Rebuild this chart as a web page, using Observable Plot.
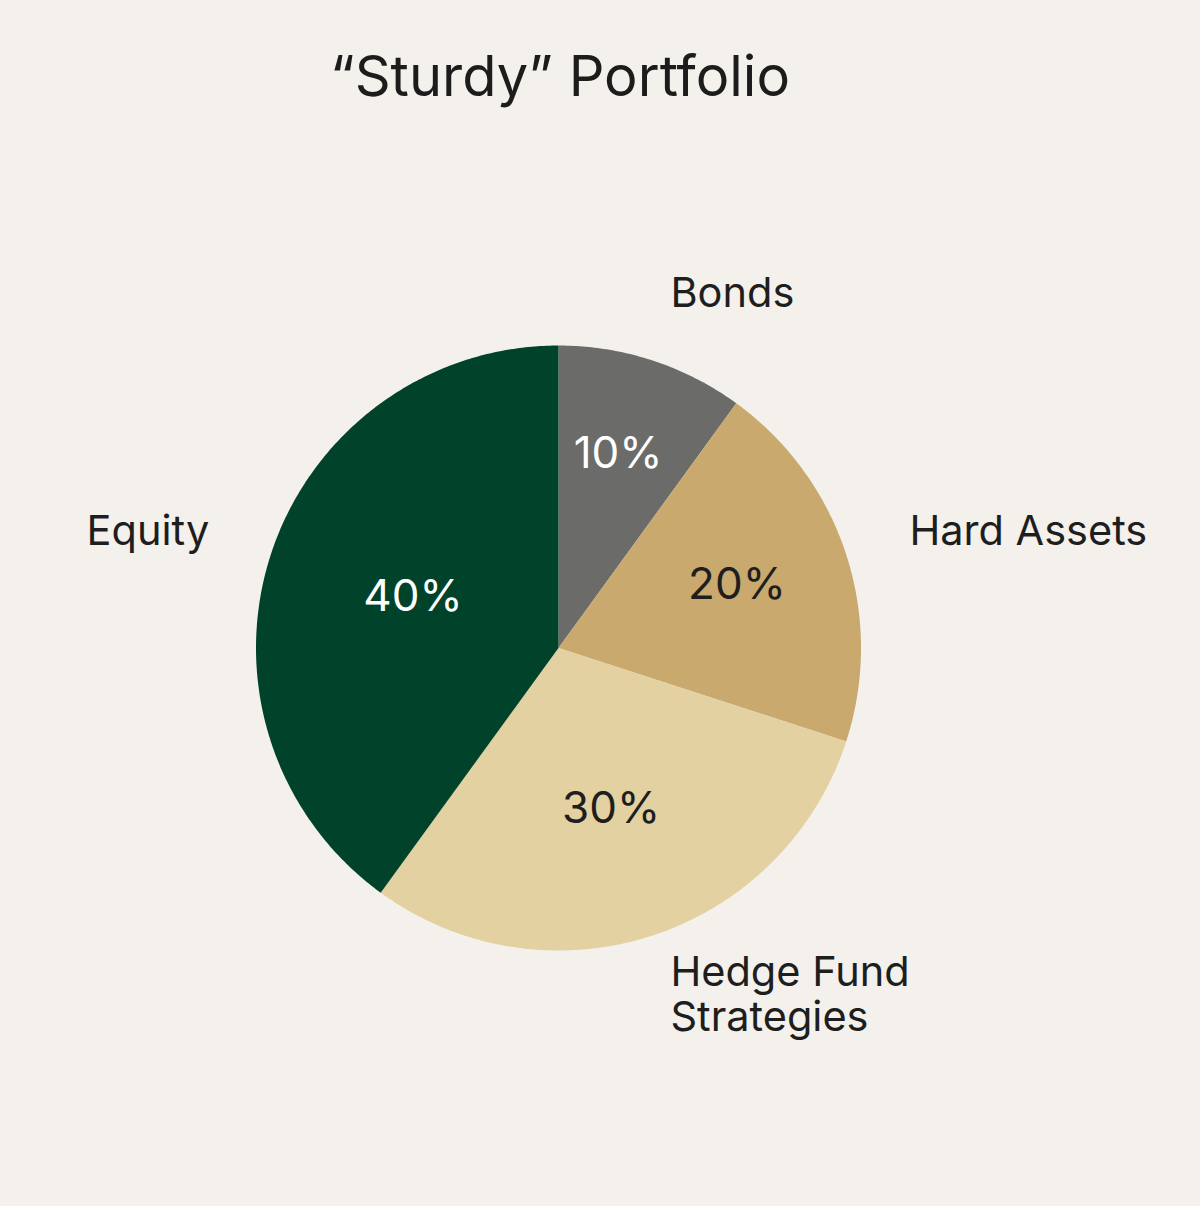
<!DOCTYPE html>
<html><head><meta charset="utf-8">
<script src="https://cdn.jsdelivr.net/npm/d3@7"></script>
<script src="https://cdn.jsdelivr.net/npm/@observablehq/plot@0.6"></script>
<style>
html,body{margin:0;padding:0;background:#f4f1ec;}
#title{box-sizing:border-box;height:140px;padding-top:48px;padding-right:80px;text-align:center;font-family:Inter,"DejaVu Sans",sans-serif;font-size:56px;line-height:1;color:#1c1c1c;}
#chart svg{display:block;}
</style></head><body>
<div id="title">“Sturdy” Portfolio</div>
<div id="chart"></div>
<script>
// ---- data ----
const categories = ["Bonds", "Hard Assets", "Hedge Fund Strategies", "Equity"];
const shares = [10, 20, 30, 40];
const percentLabels = ["10%", "20%", "30%", "40%"];
const nameLabels = ["Bonds", "Hard Assets", "Hedge Fund\nStrategies", "Equity"];
const sliceColors = ["#6b6c6a", "#c9a96e", "#e3d1a1", "#00432a"];

// ---- label layout (in pie-radius units, relative to centre) ----
const nameX = [0.370, 1.160, 0.370, -1.560];
const nameY = [1.175, 0.388, -1.144, 0.388];
const pctX = [0.197, 0.590, 0.174, -0.481];
const pctY = [0.641, 0.207, -0.532, 0.170];
const pctLight = [true, false, false, true];

const rows = categories.map((c, i) => ({
  category: c, share: shares[i], pct: percentLabels[i], name: nameLabels[i],
  nx: nameX[i], ny: nameY[i], px: pctX[i], py: pctY[i], light: pctLight[i]
}));

// slice outlines from d3.pie angles (clockwise from 12 o'clock)
const arcs = d3.pie().sort(null).value(d => d.share)(rows);
const outline = [];
for (const a of arcs) {
  const n = Math.max(2, Math.ceil((a.endAngle - a.startAngle) / 0.01));
  outline.push({category: a.data.category, x: 0, y: 0});
  for (let k = 0; k <= n; ++k) {
    const t = a.startAngle + (a.endAngle - a.startAngle) * k / n;
    outline.push({category: a.data.category, x: Math.sin(t), y: Math.cos(t)});
  }
  outline.push({category: a.data.category, x: 0, y: 0});
}

const font = "Inter, 'DejaVu Sans', sans-serif";
const chart = Plot.plot({
  width: 1200,
  height: 1066,
  margin: 0,
  style: {background: "transparent", fontFamily: font},
  x: {domain: [-1, 1], range: [255.5, 860.5], axis: null},
  y: {domain: [-1, 1], range: [810, 205], axis: null},
  color: {type: "ordinal", domain: categories, range: sliceColors},
  marks: [
    Plot.line(outline, {x: "x", y: "y", z: "category", fill: "category", stroke: "none", curve: "linear"}),
    Plot.text(rows, {x: "px", y: "py", text: "pct", filter: d => d.light, fill: "#ffffff", fontSize: 44, fontFamily: font}),
    Plot.text(rows, {x: "px", y: "py", text: "pct", filter: d => !d.light, fill: "#1e1e1e", fontSize: 44, fontFamily: font}),
    Plot.text(rows, {x: "nx", y: "ny", text: "name", textAnchor: "start", lineHeight: 1.09, fill: "#1e1e1e", fontSize: 41.5, fontFamily: font})
  ]
});
document.getElementById("chart").appendChild(chart);
</script>
</body></html>
